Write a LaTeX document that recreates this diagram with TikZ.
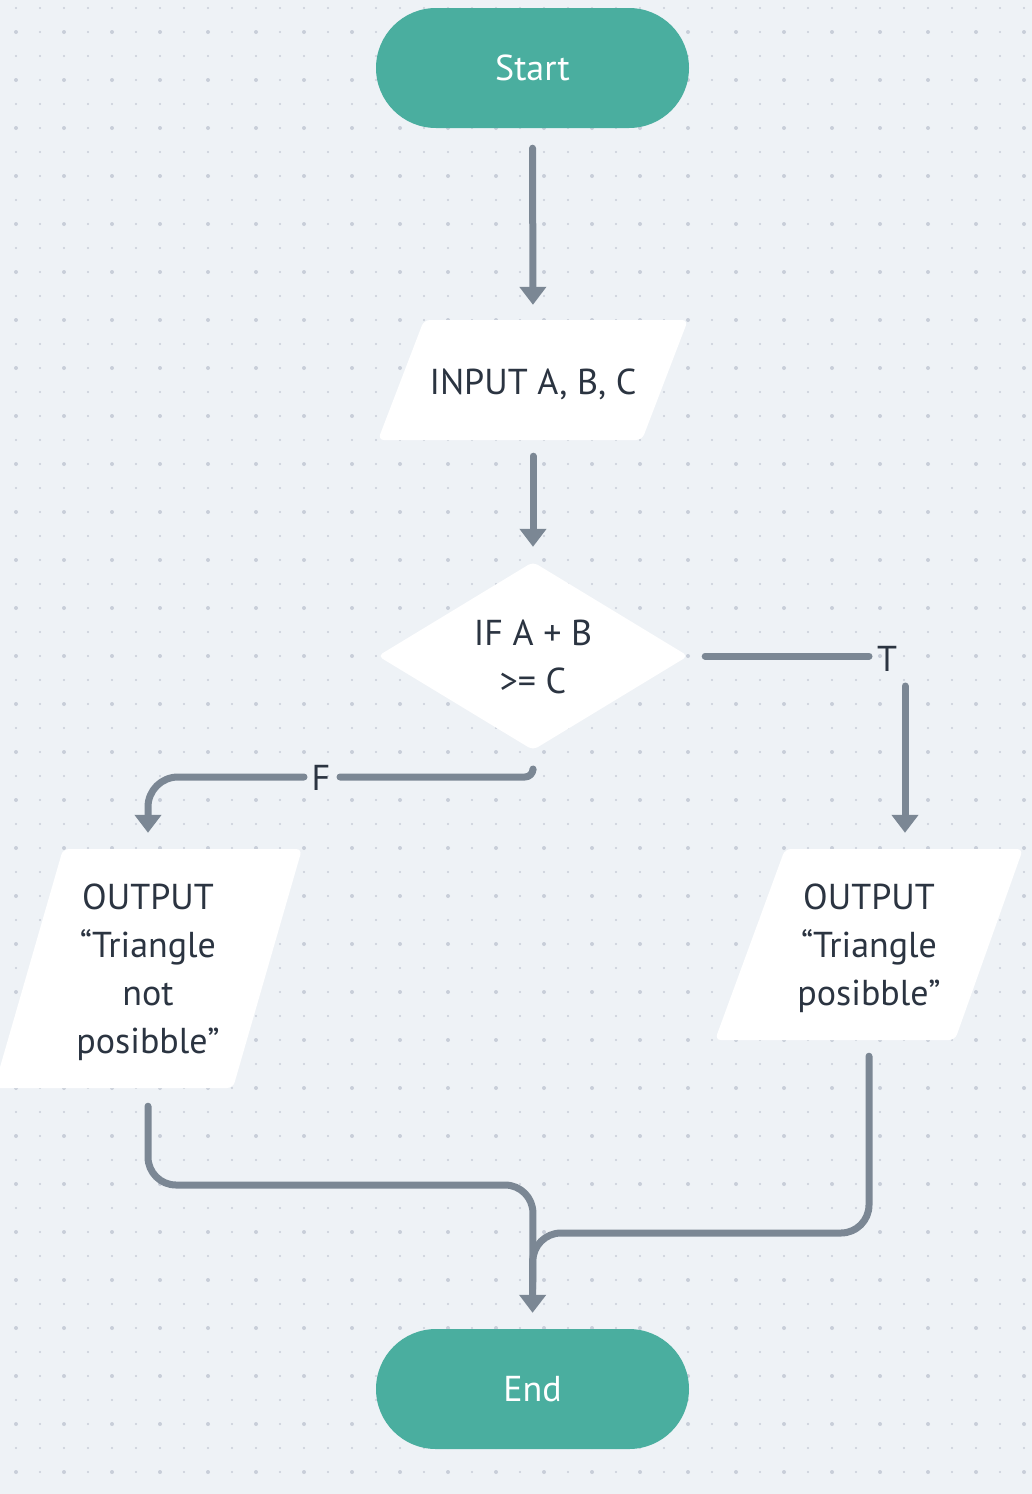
\documentclass[tikz,border=0pt]{standalone}
\usepackage{fontspec}
\setmainfont{PT Sans}
\usetikzlibrary{arrows.meta,calc}
\definecolor{bgc}{RGB}{238,242,246}
\definecolor{dotc}{RGB}{200,206,217}
\definecolor{tealc}{RGB}{74,174,159}
\definecolor{connc}{RGB}{123,135,148}
\definecolor{ink}{RGB}{43,52,65}
\begin{document}
\begin{tikzpicture}[x=1pt,y=-1pt,
  every node/.style={font=\fontsize{36}{48}\selectfont, text=ink},
  term/.style={fill=tealc, rounded corners=60pt, minimum width=313pt, minimum height=120pt, text=white, inner sep=0pt},
  shapetext/.style={align=center, inner sep=0pt, yshift=-4pt},
  shapefill/.style={fill=white, rounded corners=6pt},
  connline/.style={draw=connc, line width=7pt, line cap=round, line join=round},
  arr/.style={connline, -{Triangle[width=26pt,length=18pt]}},
  lbl/.style={inner sep=0pt}
]
\useasboundingbox (0,0) rectangle (1032,1494);
\fill[bgc] (0,0) rectangle (1032,1494);
% dot grid
\foreach \i in {0,...,42}{\foreach \j in {0,...,61}{\fill[dotc] (16+24*\i, 8+24*\j) circle (1.1);}}
\foreach \i in {0,...,21}{\foreach \j in {0,...,30}{\fill[dotc] (16+48*\i, 32+48*\j) circle (2);}}

% shapes
\node[term] (start) at (532.5,68) {Start};
\fill[shapefill] (424,320) -- (688,320) -- (642,440) -- (378,440) -- cycle;
\node[shapetext, minimum width=310pt, minimum height=120pt] (inp) at (533,380) {INPUT A, B, C};
\fill[shapefill, rounded corners=5pt] (533,562) -- (688,656) -- (533,750) -- (378,656) -- cycle;
\node[shapetext, yshift=3pt, minimum width=310pt, minimum height=188pt] (dec) at (533,656) {IF A + B\\>= C};
\fill[shapefill] (63,849) -- (302,849) -- (233,1088) -- (-6,1088) -- cycle;
\node[shapetext, minimum width=308pt, minimum height=239pt] (outL) at (148,968.5) {OUTPUT\\\char"201C Triangle\\not\\posibble\char"201D};
\fill[shapefill] (785,849) -- (1023,849) -- (955,1040) -- (715,1040) -- cycle;
\node[shapetext, minimum width=308pt, minimum height=191pt] (outR) at (869,944.5) {OUTPUT\\\char"201C Triangle\\posibble\char"201D};
\node[term] (endn) at (532.5,1389) {End};

% connectors (text nodes are shifted down slightly)
\draw[arr, shorten <=20pt, shorten >=19pt] (start.south) -- (inp.north);
\draw[arr, shorten <=12pt, shorten >=16pt] (inp.south) -- (dec.north);

% True branch
\coordinate (tc) at (905,656);
\node[lbl] (tlab) at (887,659) {T};
\draw[connline, shorten <=17pt, shorten >=36pt] (dec.east |- tc) -- (tc);
\draw[arr, shorten <=30pt, shorten >=20pt] (tc) -- (tc |- outR.north);

% False branch
\coordinate (fc) at (533,777);
\coordinate (fl) at (148,777);
\node[lbl] (flab) at (321,778) {F};
\draw[connline, rounded corners=8pt, shorten <=19pt] (dec.south) -- (fc) -- ($(flab)+(19,-1)$);
\draw[arr, rounded corners=30pt, shorten >=20pt] ($(flab)+(-17,-1)$) -- (fl) -- (outL.north);

% to End
\coordinate (jl) at (533,1185);
\coordinate (jr) at (533,1233);
\draw[arr, rounded corners=28pt, shorten <=14pt, shorten >=16pt] (outL.south) |- (jl) -- (endn.north);
\draw[connline, rounded corners=28pt, shorten <=12pt, shorten >=40pt] (outR.south) |- (jr) -- (endn.north);
\end{tikzpicture}
\end{document}
